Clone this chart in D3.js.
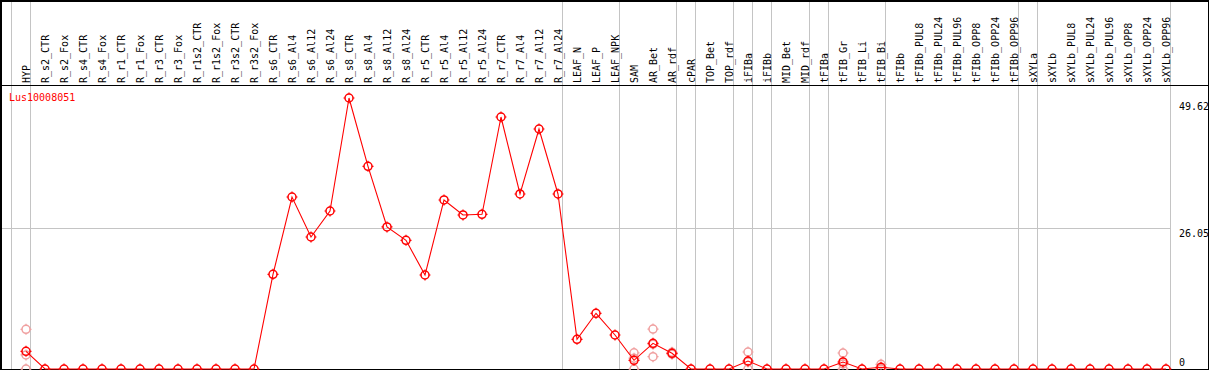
<!DOCTYPE html>
<html>
<head>
<meta charset="utf-8">
<script src="https://cdn.jsdelivr.net/npm/d3@7/dist/d3.min.js"></script>
<style>
    body { margin: 0; background: #fff; }
    text { font-family: "DejaVu Sans Mono", monospace; font-size: 10px; }
</style>
</head>
<body>
<div id="chart"></div>
<script>
var geneName = "Lus10008051";

var samples = ["HYP", "R_s2_CTR", "R_s2_Fox", "R_s4_CTR", "R_s4_Fox", "R_r1_CTR", "R_r1_Fox",
    "R_r3_CTR", "R_r3_Fox", "R_r1s2_CTR", "R_r1s2_Fox", "R_r3s2_CTR", "R_r3s2_Fox",
    "R_s6_CTR", "R_s6_Al4", "R_s6_Al12", "R_s6_Al24", "R_s8_CTR", "R_s8_Al4", "R_s8_Al12", "R_s8_Al24",
    "R_r5_CTR", "R_r5_Al4", "R_r5_Al12", "R_r5_Al24", "R_r7_CTR", "R_r7_Al4", "R_r7_Al12", "R_r7_Al24",
    "LEAF_N", "LEAF_P", "LEAF_NPK", "SAM", "AR_Bet", "AR_rdf", "cPAR", "TOP_Bet", "TOP_rdf",
    "iFIBa", "iFIBb", "MID_Bet", "MID_rdf", "tFIBa", "tFIB_Gr", "tFIB_Li", "tFIB_Bi",
    "tFIBb", "tFIBb_PUL8", "tFIBb_PUL24", "tFIBb_PUL96", "tFIBb_OPP8", "tFIBb_OPP24", "tFIBb_OPP96",
    "sXYLa", "sXYLb", "sXYLb_PUL8", "sXYLb_PUL24", "sXYLb_PUL96", "sXYLb_OPP8", "sXYLb_OPP24", "sXYLb_OPP96"];

// mean expression per sample
var means = [3.28, 0, 0, 0, 0, 0, 0,
    0, 0, 0, 0, 0, 0,
    17.54, 31.86, 24.45, 29.27, 50.2, 37.55, 26.31, 23.84,
    17.41, 31.31, 28.53, 28.66, 46.68, 32.42, 44.46, 32.42,
    5.5, 10.32, 6.3, 1.61, 4.76, 2.91, 0, 0, 0,
    1.48, 0, 0, 0, 0, 1.3, 0, 0.31,
    0, 0, 0, 0, 0, 0, 0,
    0, 0, 0, 0, 0, 0, 0, 0];

// single replicates (only where they show)
var replicates = {
    "HYP": [7.35, 2.6, 0],
    "SAM": [3.0, 2.0, 0],
    "AR_Bet": [7.4, 4.6, 2.28],
    "AR_rdf": [3.1, 2.9, 2.75],
    "iFIBa": [3.15, 1.3, 0],
    "tFIB_Gr": [2.96, 0.94, 0],
    "tFIB_Bi": [0.87, 0.06, 0]
};

// gray separator after these sample indexes (-1 = before first)
var groupBreaks = [-1, 0, 28, 31, 34, 35, 37, 38, 39, 41, 42, 45, 52, 53, 60];

var yMax = 50.2;
var yTicks = [0, 26.05, 49.62];
var gridTicks = [26.05];

var width = 1209, height = 370;

var svg = d3.select("#chart").append("svg")
    .attr("width", width)
    .attr("height", height);

var x = d3.scalePoint()
    .domain(samples)
    .range([26, 1166])
    .padding(0);

var step = x.step();

var y = d3.scaleLinear()
    .domain([0, yMax])
    .range([369, 98]);

var xAt = function(i) { return i < 0 ? x(samples[0]) - step : x(samples[i]); };

// group separators
svg.append("g")
    .selectAll("line")
    .data(groupBreaks)
    .enter().append("line")
    .attr("x1", d => Math.round(xAt(d)) + 4.5)
    .attr("x2", d => Math.round(xAt(d)) + 4.5)
    .attr("y1", 0)
    .attr("y2", height)
    .attr("stroke", "#c4c4c4")
    .attr("shape-rendering", "crispEdges");

// horizontal grid
svg.append("g")
    .selectAll("line")
    .data(gridTicks)
    .enter().append("line")
    .attr("x1", 0)
    .attr("x2", Math.round(xAt(60)) + 4.5)
    .attr("y1", d => Math.round(y(d)) + 0.5)
    .attr("y2", d => Math.round(y(d)) + 0.5)
    .attr("stroke", "#c4c4c4")
    .attr("shape-rendering", "crispEdges");

// frame
var frame = svg.append("g").attr("stroke", "#000").attr("shape-rendering", "crispEdges");
frame.append("line").attr("x1", 0).attr("x2", 1209).attr("y1", 1).attr("y2", 1).attr("stroke-width", 2);
frame.append("line").attr("x1", 1).attr("x2", 1).attr("y1", 0).attr("y2", 370).attr("stroke-width", 2);
frame.append("line").attr("x1", 1208.5).attr("x2", 1208.5).attr("y1", 0).attr("y2", 370);
frame.append("line").attr("x1", 0).attr("x2", 1209).attr("y1", 369.5).attr("y2", 369.5);
frame.append("line").attr("x1", 0).attr("x2", 1209).attr("y1", 85.5).attr("y2", 85.5);

// column labels
svg.append("g")
    .selectAll("text")
    .data(samples)
    .enter().append("text")
    .attr("transform", d => `translate(${x(d) + 3.5},83) rotate(-90)`)
    .attr("fill", "#000")
    .text(d => d);

// y labels on the right
svg.append("g")
    .selectAll("text")
    .data(yTicks)
    .enter().append("text")
    .attr("x", 1179)
    .attr("y", d => Math.min(y(d) + 9, 366))
    .attr("fill", "#000")
    .text(d => d);

svg.append("text")
    .attr("x", 9)
    .attr("y", 101)
    .attr("fill", "red")
    .text(geneName);

function marker(sel, color) {
    sel.append("circle")
        .attr("r", 4)
        .attr("fill", "none")
        .attr("stroke", color)
        .attr("stroke-width", 1.5);
    [[0, -1], [0, 1], [-1, 0], [1, 0]].forEach(function(v) {
        sel.append("line")
            .attr("x1", v[0] * 4)
            .attr("y1", v[1] * 4)
            .attr("x2", v[0] * 5.5)
            .attr("y2", v[1] * 5.5)
            .attr("stroke", color)
            .attr("stroke-width", 1.2);
    });
}

// replicate markers
var repPoints = [];
samples.forEach(function(s) {
    (replicates[s] || []).forEach(function(v) { repPoints.push({ s: s, v: v }); });
});

svg.append("g")
    .selectAll("g")
    .data(repPoints)
    .enter().append("g")
    .attr("transform", d => `translate(${x(d.s)},${y(d.v)})`)
    .each(function() { marker(d3.select(this), "#f0a0a0"); });

// mean line
var line = d3.line()
    .x((d, i) => x(samples[i]))
    .y(d => y(d));

svg.append("path")
    .datum(means)
    .attr("d", line)
    .attr("fill", "none")
    .attr("stroke", "red")
    .attr("stroke-width", 1.1);

svg.append("g")
    .selectAll("g")
    .data(means)
    .enter().append("g")
    .attr("transform", (d, i) => `translate(${x(samples[i])},${y(d)})`)
    .each(function() { marker(d3.select(this), "red"); });
</script>
</body>
</html>
